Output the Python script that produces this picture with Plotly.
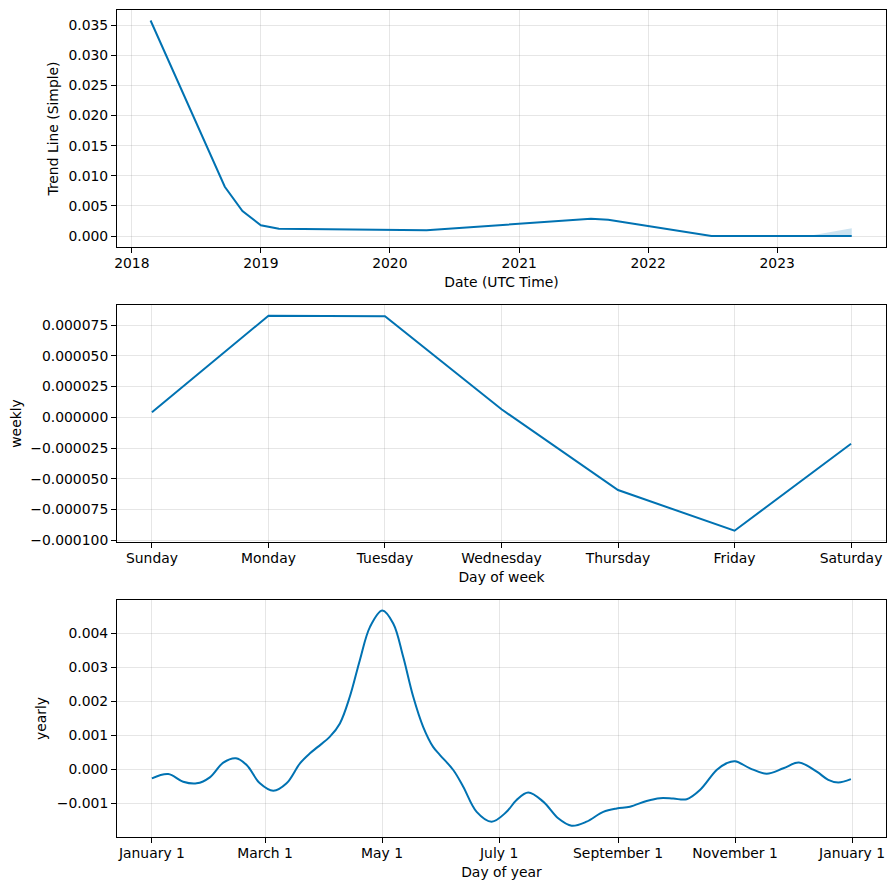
import plotly.graph_objects as go

# ---------------- data ----------------
trend_dates = ["2018-02-23", "2018-09-21", "2018-11-10", "2019-01-01", "2019-02-21",
               "2020-04-14", "2021-07-23", "2021-09-10", "2022-06-29", "2023-03-30",
               "2023-07-31"]
trend_values = [0.0358, 0.00818, 0.00415, 0.00177, 0.00121,
                0.00094, 0.00287, 0.0027, 0.0, 0.0,
                0.0]
band_dates = ["2023-03-30", "2023-07-31"]
band_lower = [0.0, 0.0]
band_upper = [0.0, 0.00128]

weekdays = ["Sunday", "Monday", "Tuesday", "Wednesday", "Thursday", "Friday", "Saturday"]
weekly_values = [0.0000041, 0.0000827, 0.0000822, 0.0000065, -0.0000592, -0.0000923, -0.0000215]

# day of year (0 = January 1) and yearly component value
yearly_days = [0, 8.5, 16.3, 23.3, 30.2, 37.2, 43.8, 49.4, 56.3, 63.3,
               70.2, 77.2, 82.4, 86.5, 92.8, 98, 103.2, 108.4, 113.7, 120.1,
               125.8, 131, 136.2, 141.4, 146.6, 150.2, 157.1, 162.3, 169.3, 177.1,
               184.9, 190.1, 196.2, 204, 211.8, 218.8, 226.6, 235.3, 242.3, 249.2,
               257.9, 264.9, 271.8, 278.8, 285.7, 294.4, 299.6, 304, 311.8, 320.5,
               329.2, 337.3, 346.6, 352.6, 357.8, 364.4]
yearly_values = [-0.000265, -0.000138, -0.000364, -0.000412, -0.000235, 0.000195, 0.000323, 0.000126, -0.000412, -0.00063,
                 -0.000412, 0.000176, 0.00047, 0.00066, 0.00096, 0.00135, 0.00214, 0.00321, 0.00419, 0.00467,
                 0.00429, 0.00331, 0.00214, 0.00125, 0.00066, 0.00042, -0.00002, -0.00051, -0.00125, -0.00154,
                 -0.00125, -0.0009, -0.00068, -0.00095, -0.00144, -0.00166, -0.00154, -0.00125, -0.00115, -0.0011,
                 -0.00093, -0.00085, -0.00086, -0.00088, -0.00061, -0.00002, 0.00018, 0.00024, 0.00003, -0.00013,
                 0.00003, 0.0002, -0.00007, -0.00031, -0.00039, -0.00029]
yearly_tickvals = [0, 59, 120, 181, 243, 304, 365]
yearly_ticktext = ["January 1", "March 1", "May 1", "July 1",
                   "September 1", "November 1", "January 1"]

# ---------------- styling ----------------
LINE = "#0072B2"
FONT = dict(family="DejaVu Sans", size=13.9, color="black")
GRID = "rgba(128,128,128,0.2)"

fig = go.Figure()

fig.add_trace(go.Scatter(x=band_dates, y=band_lower, mode="lines",
                         line=dict(width=0), showlegend=False, xaxis="x", yaxis="y"))
fig.add_trace(go.Scatter(x=band_dates, y=band_upper, mode="lines", fill="tonexty",
                         fillcolor="rgba(0,114,178,0.2)", line=dict(width=0),
                         showlegend=False, xaxis="x", yaxis="y"))
fig.add_trace(go.Scatter(x=trend_dates, y=trend_values, mode="lines",
                         line=dict(color=LINE, width=2), showlegend=False,
                         xaxis="x", yaxis="y"))

fig.add_trace(go.Scatter(x=list(range(len(weekdays))), y=weekly_values, mode="lines",
                         line=dict(color=LINE, width=2), showlegend=False,
                         xaxis="x2", yaxis="y2"))

fig.add_trace(go.Scatter(x=yearly_days, y=yearly_values, mode="lines",
                         line=dict(color=LINE, width=2, shape="spline", smoothing=1.0),
                         showlegend=False, xaxis="x3", yaxis="y3"))

common = dict(showline=True, mirror=True, linecolor="black", linewidth=1,
              ticks="outside", ticklen=5, tickwidth=1, tickcolor="black",
              showgrid=True, gridcolor=GRID, gridwidth=1, zeroline=False,
              tickfont=FONT, title_font=FONT)
xcommon = dict(common, ticklabelstandoff=-2)

# page body has an 8px margin: compensate so the plot areas land where intended
fig.update_layout(
    width=887, height=882,
    margin=dict(l=109, r=9, t=2, b=53),
    paper_bgcolor="white", plot_bgcolor="white",
    font=FONT,
    xaxis=dict(domain=[0, 1], anchor="y", type="date",
               range=["2017-11-20", "2023-11-05"],
               tickvals=["2018-01-01", "2019-01-01", "2020-01-01", "2021-01-01",
                         "2022-01-01", "2023-01-01"],
               ticktext=["2018", "2019", "2020", "2021", "2022", "2023"],
               title=dict(text="Date (UTC Time)", standoff=7), **xcommon),
    yaxis=dict(domain=[0.7134, 1.0], anchor="x", range=[-0.00183, 0.03754],
               tickvals=[0, 0.005, 0.01, 0.015, 0.02, 0.025, 0.03, 0.035],
               tickformat=".3f",
               title=dict(text="Trend Line (Simple)", standoff=6), **common),
    xaxis2=dict(domain=[0, 1], anchor="y2", range=[-0.3, 6.3],
                tickvals=list(range(len(weekdays))), ticktext=weekdays,
                title=dict(text="Day of week", standoff=7), **xcommon),
    yaxis2=dict(domain=[0.3567, 0.6433], anchor="x2", range=[-0.0001015, 0.0000914],
                tickvals=[-0.0001, -0.000075, -0.00005, -0.000025, 0, 0.000025,
                          0.00005, 0.000075],
                tickformat=".6f",
                title=dict(text="weekly", standoff=6), **common),
    xaxis3=dict(domain=[0, 1], anchor="y3", range=[-18.2, 382.7],
                tickvals=yearly_tickvals, ticktext=yearly_ticktext,
                title=dict(text="Day of year", standoff=7), **xcommon),
    yaxis3=dict(domain=[0.0, 0.2866], anchor="x3", range=[-0.00199, 0.00498],
                tickvals=[-0.001, 0, 0.001, 0.002, 0.003, 0.004],
                tickformat=".3f",
                title=dict(text="yearly", standoff=6), **common),
)

fig.write_html("out.html")
